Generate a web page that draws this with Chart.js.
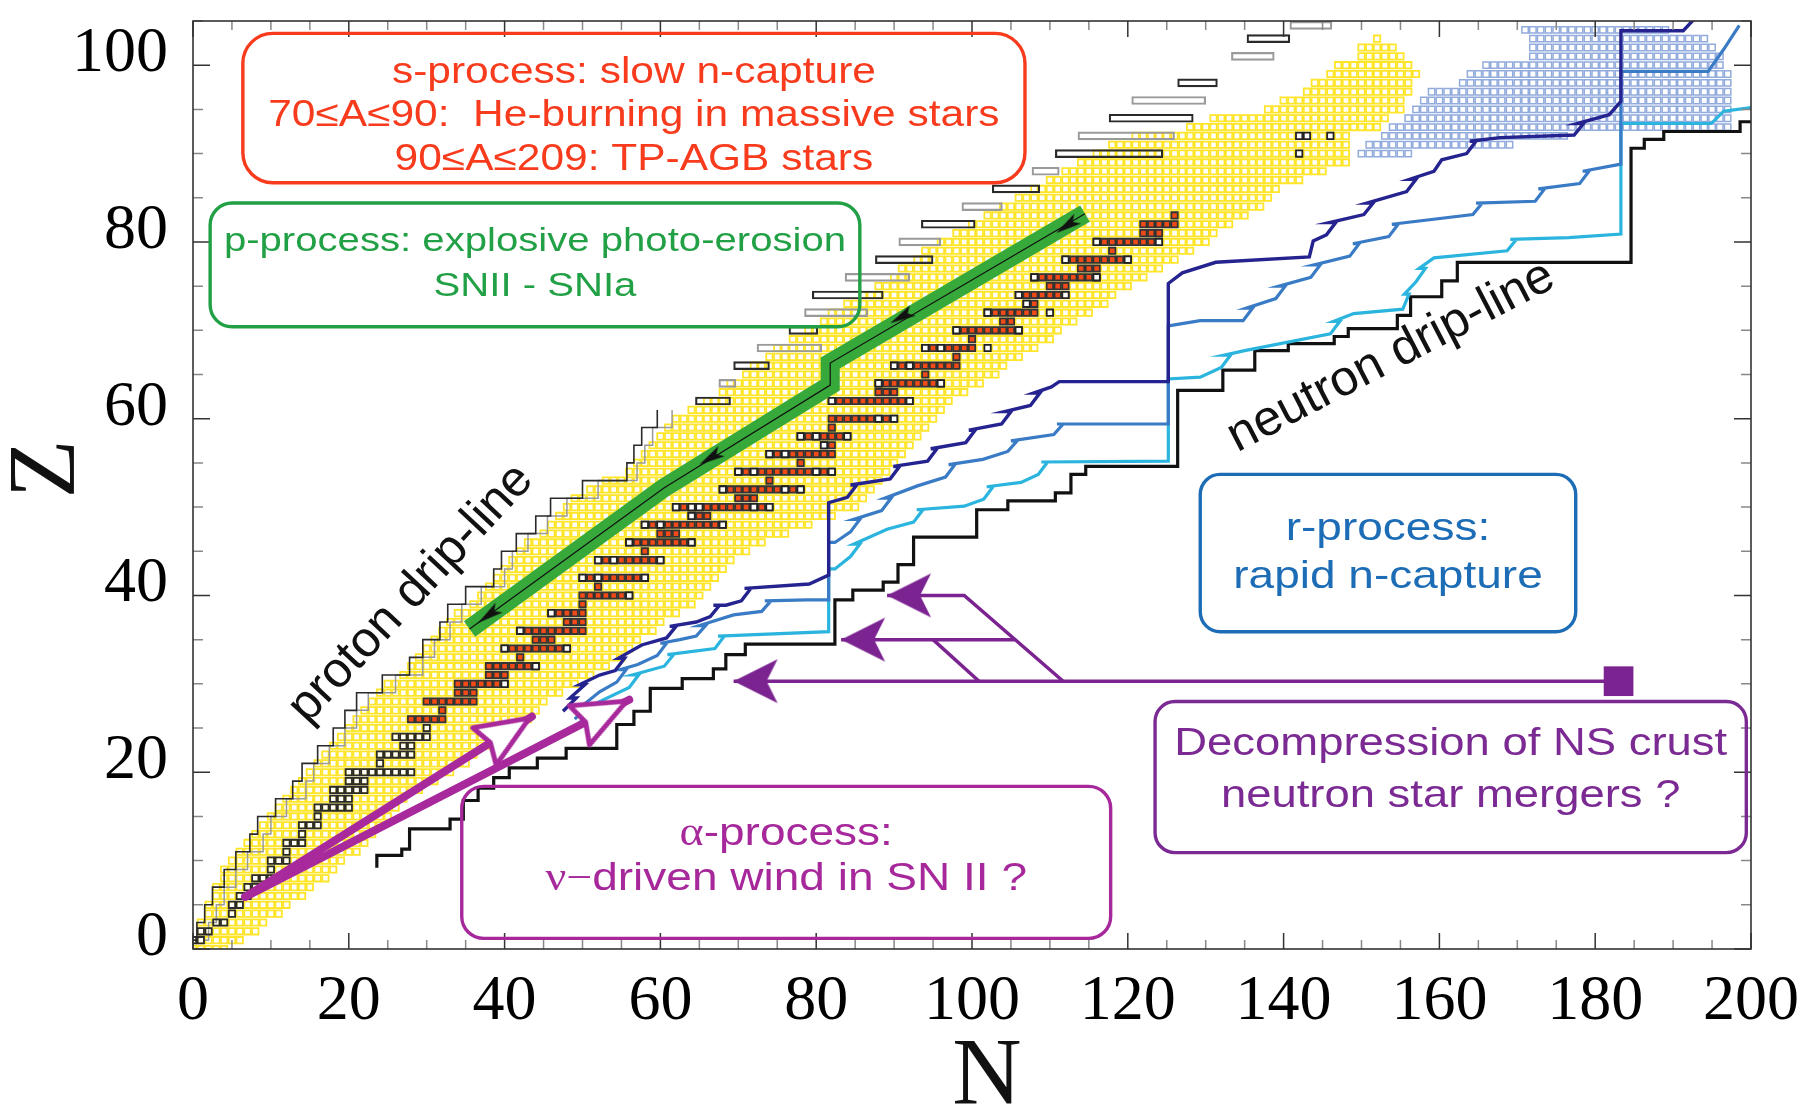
<!DOCTYPE html>
<html>
<head>
<meta charset="utf-8">
<title>Nucleosynthesis processes on the chart of nuclides</title>
<script src="https://cdn.jsdelivr.net/npm/chart.js@4.4.1/dist/chart.umd.min.js"></script>
<style>
  html, body { margin: 0; padding: 0; background: #fff; }
  canvas { display: block; }
</style>
</head>
<body>
<canvas id="nuclides" width="1811" height="1106"></canvas>
<script>
var SANS = "'Liberation Sans', Arial, Helvetica, sans-serif";
var SERIF = "'Liberation Serif', 'Times New Roman', Times, serif";

// axis tick labels
var nTicks = [0, 20, 40, 60, 80, 100, 120, 140, 160, 180, 200];
var zTicks = [0, 20, 40, 60, 80, 100];

// known nuclides (yellow cells), one row per Z starting at Z = 0
var knownNmin = [0,0,1,1,2,2,3,3,4,4,
  5,6,7,8,9,10,11,12,13,14,
  15,16,17,18,19,20,21,22,23,24,
  25,27,28,29,30,31,32,33,34,36,
  37,38,39,40,41,42,43,45,46,47,
  48,49,51,53,56,57,58,59,60,61,
  62,64,66,68,69,71,72,74,75,77,
  79,81,82,84,86,88,90,91,93,94,
  96,98,100,102,104,106,108,110,112,114,
  116,118,121,128,131,138,140,143,144,146,
  147,150,150,152];
var knownNmax = [4,6,8,9,11,12,14,15,17,18,
  19,21,22,23,24,25,26,27,29,31,
  33,35,36,38,40,41,43,44,45,47,
  49,51,53,55,56,57,59,60,62,64,
  65,66,67,68,69,71,73,76,79,82,
  85,86,87,88,89,90,91,92,93,94,
  95,96,97,99,101,103,104,106,108,110,
  111,113,115,117,118,120,122,124,126,128,
  130,131,133,135,137,138,139,142,145,148,
  148,148,148,152,153,155,155,156,156,157,
  156,155,154,152];

// superheavy region (light blue cells)
var heavyZ    = [90, 91, 92, 93, 94, 95, 96, 97, 98, 99, 100, 101, 102, 103, 104];
var heavyNmin = [150,151,153,154,156,157,158,159,163,164,166,172,172,172,171];
var heavyNmax = [156,169,176,197,197,197,197,197,197,197,196,196,195,194,189];

// valley of stability
var stableZ = [1,2,3,4,5,6,7,8,9,10,11,12,13,14,15,16,17,18,19,20,21,22,23,24,25,26,27,28,29,30,
  31,32,33,34,35,36,37,38,39,40,41,42,44,45,46,47,48,49,50,51,52,53,54,55,56,57,58,59,60,
  62,63,64,65,66,67,68,69,70,71,72,73,74,75,76,77,78,79,80,81,82,83];
var stableNmin = [0,1,3,5,5,6,7,8,10,10,12,12,14,14,16,16,18,18,20,20,24,24,27,26,30,28,32,30,34,34,
  38,38,42,40,44,42,48,46,50,50,52,50,52,58,56,60,58,64,62,70,68,74,70,78,74,81,78,82,82,
  82,88,88,94,90,98,94,100,98,104,102,107,106,110,108,114,112,118,116,122,122,126];
var stableNmax = [1,2,4,5,6,7,8,10,10,12,12,14,14,16,16,20,20,22,22,28,24,28,28,30,30,32,32,36,36,40,
  40,44,42,48,46,50,50,50,50,56,52,58,60,58,64,62,68,66,74,72,78,74,82,78,82,82,84,82,90,
  92,90,96,94,98,98,100,100,106,105,108,108,112,112,116,116,120,118,124,124,126,126];

// open squares [N, Z]: p-nuclei, r-only nuclei, long-lived actinides
var pNuclei = [[40,34],[42,36],[46,38],[50,42],[52,42],[52,44],[54,44],[56,46],[58,48],[60,48],
  [64,49],[62,50],[64,50],[65,50],[68,52],[70,54],[72,54],[74,56],[76,56],[81,57],[78,58],[80,58],
  [82,62],[88,64],[90,66],[92,66],[94,68],[96,68],[98,70],[102,72],[107,73],[106,74],[108,76],[112,78],[116,80]];
var rOnly = [[40,30],[44,32],[48,34],[56,40],[58,42],[60,44],[64,46],[68,48],[72,50],[74,50],[76,52],
  [78,52],[80,54],[82,54],[84,58],[88,60],[90,60],[92,62],[96,64],[102,68],[106,70],[110,72],[112,74],
  [116,76],[120,78],[124,80]];
var actinides = [[142,90],[142,92],[143,92],[146,92]];

// proton drip-line: lower staircase (outer and inner edge) and upper rows
var pDripLowZ     = [0,2,4,6,8,10,12,14,16,18,20,22,24,26,28,30,32,34,36,38,40,42,44,46,48,50,52,54,56,58,60];
var pDripLowOuter = [0,0.5,1.5,2.5,4,5.5,7.3,8.3,10.6,12.8,14,16,18,19.5,21,24.3,27.8,29.5,31.7,32.7,35,38.6,39.6,41.5,44,45.9,50,55.7,56.6,57.6,59.6];
var pDripLowInner = [1.5,2,3,4,5.5,7,9,10,12,14.5,15.5,17.5,19.5,21,22.5,26,29.5,31,33,34.5,37,40,41,43,45.5,48,52,57,58,59,61.5];
var pDripHighZ    = [62,64,66,68,70,72,74,76,78,80,82,84,86,88,90,92,94,96,98,101,103,104.5];
var pDripHighFrom = [64.5,67.5,69.4,72.4,76.5,78.5,79.5,83.7,87.6,90.6,93.5,98.7,102.6,107.7,110.7,113.6,117.6,120.5,126.4,133.3,135.3,140.8];
var pDripHighTo   = [69,69.7,74,80.7,80.2,86.6,88.6,92,95,96,100.4,103.9,108.7,111.2,124.5,126,128.4,130,131.5,138.8,140.8,146.2];

// neutron drip-line, corners of the staircase [N, Z]
var nDrip = [[23.6,9.2],[23.6,10.6],[26.8,11.3],[27.8,13.6],[33.0,14.7],[34.7,16.8],[36.6,18.2],[38.6,19.4],
  [40.6,20.5],[44.2,21.6],[47.9,22.7],[54.4,25.4],[56.6,26.9],[58.7,29.5],[62.8,30.6],[66.8,31.7],[68.4,33.3],
  [70.9,34.5],[82.4,39.5],[84.7,40.6],[88.6,41.5],[90.5,43.5],[92.5,46.6],[100.6,49.7],[104.6,50.7],[110.7,51.6],
  [112.7,53.7],[114.6,54.6],[126.4,63.2],[132.2,65.5],[136.3,67.7],[140.6,68.5],[146.5,69.3],[148.3,70.2],
  [154.6,71.7],[156.3,73.8],[160.3,75.6],[162.3,77.7],[184.6,90.6],[186.3,91.6],[188.8,92.5],[198.6,93.6],[200,93.6]];

// r-process paths [N, Z], with the odd-even zigzag at each rise
var rPathCold = [[47.5,26.9],[49.2,28.4],[48.4,28.4],[50.3,29.9],[49.6,29.9],[52.2,31.0],
  [54.2,31.5],[55.4,32.9],[54.6,32.9],[57.6,34.4],[60.8,35.2],[62,36.5],[61.2,36.5],[64.6,37.0],
  [66.4,37.6],[67.6,38.9],[66.8,38.9],[68.4,38.9],[70.4,39.4],[71.6,40.8],[70.8,40.8],[79.1,41.3],
  [81.6,42.3],[81.6,50.5],[84,51.1],[85.2,52.5],[84.4,52.5],[89.5,53.2],[90.7,54.6],[89.9,54.6],
  [94.3,55.2],[95.5,56.6],[94.7,56.6],[99.2,57.3],[100.4,58.7],[99.6,58.7],[103.8,59.4],[105,60.8],
  [104.2,60.8],[107.5,61.5],[108.7,62.9],[107.9,62.9],[110.2,63.6],[111.2,64.2],[125.2,64.2],[125.2,75.3],
  [127,76.5],[131.3,77.7],[143.3,78.3],[143.8,80.1],[145.5,80.8],[146.7,82.2],[145.9,82.2],[150.3,83.1],
  [151.5,84.4],[150.7,84.4],[155.8,85.7],[157,87.1],[156.2,87.1],[159.3,88.0],[160.3,89.3],[163.5,90],
  [164.7,91.4],[163.9,91.4],[167.8,91.8],[177.3,92.1],[178.5,93.4],[177.7,93.4],[181.8,94.4],[183.3,95.9],
  [183.3,103.9],[191.3,103.9],[193,105.5]];
var rPathMid = [[49,26],[50.6,27.4],[49.8,27.4],[52.2,29.1],[54.4,30.2],[55.6,31.6],[54.8,31.6],[57.1,32.2],
  [59.6,33.2],[60.8,34.6],[60,34.6],[62.5,35],[64.6,35.4],[65.8,36.6],[65,36.6],[69.4,37.8],[73,38.2],
  [74.2,39.4],[73.4,39.4],[78.8,39.5],[81.6,39.5],[81.6,46.0],[82.4,46.0],[84.4,47.2],[85.6,48.6],[84.8,48.6],
  [88.4,49.6],[89.6,51],[88.8,51],[93,52.4],[96.6,53.4],[97.8,54.8],[97,54.8],[101.4,55.4],[104.6,56.3],
  [105.8,57.5],[105,57.5],[110.5,58.2],[111.7,59.4],[110.9,59.4],[125.2,59.4],[125.2,70.5],[129.3,71.1],
  [134.8,71.1],[136,72.5],[135.2,72.5],[139,73.6],[140.2,75],[139.4,75],[143.5,76],[144.7,77.4],[143.9,77.4],
  [148.5,78.4],[149.7,79.8],[148.9,79.8],[153.5,80.6],[154.7,82],[153.9,82],[164.3,83.1],[165.5,84.4],
  [164.7,84.4],[172.3,84.6],[173.5,86],[172.7,86],[178,86.6],[179.2,88],[178.4,88],[183.3,88.8],[183.3,99.3],
  [194.5,99.3],[196.5,101.8],[198.5,104.5]];
var rPathHot = [[49.5,25.5],[51,26.8],[50.2,26.8],[52.2,28.0],[56,29.6],[57.2,31],[56.4,31],[60.5,32],
  [61.7,33.3],[60.9,33.3],[67,34.0],[68.2,35.4],[67.4,35.4],[81.6,35.9],[81.6,43.0],[82.4,43.0],[84.4,44.4],
  [85.6,45.8],[84.8,45.8],[89.1,47.5],[92.5,48.3],[93.7,49.7],[92.9,49.7],[99,50.1],[101.5,50.9],[102.7,52.3],
  [101.9,52.3],[106.3,52.8],[108.5,53.7],[109.7,55.1],[108.9,55.1],[125.2,55.2],[125.2,64.5],[129.3,64.7],
  [132,65.8],[133.2,67.2],[132.4,67.2],[135,67.7],[146,69.6],[147.2,71],[146.4,71],[149,71.9],[155.3,72.4],
  [156.1,74.1],[155.5,74.1],[157,75.5],[158.2,77],[157.4,77],[159.3,78.2],[168.7,79.0],[169.9,80.3],
  [169.1,80.3],[176.6,80.5],[183.3,80.9],[183.3,93.4],[194.9,93.4],[196.5,94.8],[200,95.2]];

// p-process photo-erosion arrow
var pPath = [[114.5,83.2],[81.8,66.3],[81.8,63.8],[60.5,52.2],[35.5,36.2]];
var pHeadTips = [[110.8,81.0],[89.5,70.8],[65.0,54.8],[36.6,36.9]];
var pHeadBack = [[114.5,83.2],[114.5,83.2],[81.8,63.8],[60.5,52.2]];

// alpha-process arrows
var alphaStart = [6.7, 5.9];
var alphaTips = [[43.5,26.3],[56,28.2]];

// NS crust decompression arrows
var nsSource = [183, 30.3];
var nsMain = [[183,30.3],[69.4,30.3]];
var nsBranchA = [[111.7,30.3],[99,40],[89.1,40]];
var nsBranchB = [[105.5,35],[83.2,35]];
var nsBranchC = [[100.9,30.3],[95,35]];
var nsTips = [[69.4,30.3],[83.2,35],[89.1,40]];
var nsBack = [[80,30.3],[95,35],[99,40]];

function cells(zs, lo, hi) {
  var out = [];
  for (var i = 0; i < zs.length; i++) {
    for (var n = lo[i]; n <= hi[i]; n++) out.push({x: n, y: zs[i]});
  }
  return out;
}
function pts(list) {
  return list.map(function (p) { return {x: p[0], y: p[1]}; });
}
// staircase corners: each row rises along its edge up to the top of the row
function stairs(zs, edge) {
  return zs.map(function (z, i) { return {x: edge[i], y: z + 1}; });
}

var knownZ = knownNmin.map(function (v, z) { return z; });
var sBand = [], lightStable = [];
cells(stableZ, stableNmin, stableNmax).forEach(function (p) {
  (p.y >= 26 ? sBand : lightStable).push(p);
});

// arrowhead sprites, drawn pointing right with the tip at the centre
function head(kind) {
  var c = document.createElement('canvas');
  var g;
  if (kind === 'green') {
    c.width = 56; c.height = 16;
    g = c.getContext('2d');
    g.fillStyle = '#111';
    g.beginPath();
    g.moveTo(28, 8); g.lineTo(2, 2); g.lineTo(8, 8); g.lineTo(2, 14);
    g.closePath(); g.fill();
  } else if (kind === 'alpha') {
    c.width = 128; c.height = 58;
    g = c.getContext('2d');
    g.lineJoin = 'round';
    g.lineWidth = 5;
    g.strokeStyle = '#a8299c';
    g.fillStyle = '#fff';
    g.beginPath();
    g.moveTo(61, 29); g.lineTo(8, 7); g.lineTo(15, 29); g.lineTo(8, 51);
    g.closePath(); g.fill(); g.stroke();
  } else {
    c.width = 92; c.height = 48;
    g = c.getContext('2d');
    g.fillStyle = '#7b2390';
    g.beginPath();
    g.moveTo(46, 24); g.lineTo(2, 2); g.lineTo(13, 24); g.lineTo(2, 46);
    g.closePath(); g.fill();
  }
  return c;
}

function headAngle(tips, backs) {
  return function (ctx) {
    var c = ctx.chart, i = ctx.dataIndex;
    if (i === undefined || !c.scales || !c.scales.x) return 0;
    var sx = c.scales.x, sy = c.scales.y;
    var dx = sx.getPixelForValue(tips[i][0]) - sx.getPixelForValue(backs[i][0]);
    var dy = sy.getPixelForValue(tips[i][1]) - sy.getPixelForValue(backs[i][1]);
    return Math.atan2(dy, dx) * 180 / Math.PI;
  };
}

function cellSet(data, border, fill, width, order) {
  return {
    type: 'scatter', data: data, order: order, showLine: false,
    pointStyle: 'rect', pointRadius: 4.5, pointBorderWidth: width,
    pointBorderColor: border, pointBackgroundColor: fill
  };
}
function dripRows(zs, from, to, thickness, order) {
  return {
    type: 'bar', indexAxis: 'y', order: order, grouped: false,
    data: zs.map(function (z, i) { return {x: [from[i], to[i]], y: z}; }),
    barThickness: thickness, borderWidth: 1.5, borderSkipped: false,
    borderColor: zs.map(function (z, i) { return i % 2 ? '#9a9a9a' : '#2a2a2a'; }),
    backgroundColor: 'rgba(0,0,0,0)'
  };
}
function path(data, color, width, order, extra) {
  var ds = {
    type: 'line', data: data, order: order, borderColor: color, borderWidth: width,
    pointRadius: 0, fill: false, tension: 0, borderJoinStyle: 'miter', borderCapStyle: 'butt'
  };
  for (var k in extra) ds[k] = extra[k];
  return ds;
}

var datasets = [
  cellSet(cells(knownZ, knownNmin, knownNmax), '#ffe52a', 'rgba(255,255,255,0)', 1.8, 100),
  cellSet(cells(heavyZ, heavyNmin, heavyNmax), '#92abdd', 'rgba(255,255,255,0)', 1.5, 99),
  path(stairs(pDripLowZ, pDripLowInner), '#9a9a9a', 1.5, 92, {stepped: true}),
  path(stairs(pDripLowZ, pDripLowOuter), '#2a2a2a', 1.6, 91, {stepped: true}),
  dripRows(pDripHighZ, pDripHighFrom, pDripHighTo, 8, 90),
  cellSet(lightStable, '#2a2a2a', 'rgba(255,255,255,0)', 1.8, 86),
  cellSet(sBand, '#333', '#ef4a18', 1.8, 85),
  cellSet(pts(pNuclei.concat(rOnly, actinides)), '#222', '#fff', 1.8, 84),
  path(pts(nDrip), '#111', 3.2, 80, {stepped: true}),
  path(pts(rPathHot), '#2ab4de', 3.2, 72),
  path(pts(rPathMid), '#3a7bc6', 3.2, 71),
  path(pts(rPathCold), '#25238f', 3.4, 70),
  path(pts(pPath), '#37a83a', 19, 60),
  path(pts(pPath), '#111', 1.2, 59),
  {
    type: 'scatter', data: pts(pHeadTips), order: 58, showLine: false,
    pointStyle: head('green'), pointRadius: 5, pointRotation: headAngle(pHeadTips, pHeadBack)
  },
  path(pts([alphaStart, alphaTips[0]]), '#a8299c', 8, 50, {borderCapStyle: 'round'}),
  path(pts([alphaStart, alphaTips[1]]), '#a8299c', 8, 50, {borderCapStyle: 'round'}),
  {
    type: 'scatter', data: pts(alphaTips), order: 49, showLine: false,
    pointStyle: head('alpha'), pointRadius: 5,
    pointRotation: headAngle(alphaTips, [alphaStart, alphaStart])
  },
  path(pts(nsMain), '#7b2390', 3.5, 40),
  path(pts(nsBranchA), '#7b2390', 3.5, 40),
  path(pts(nsBranchB), '#7b2390', 3.5, 40),
  path(pts(nsBranchC), '#7b2390', 3.5, 40),
  {
    type: 'scatter', data: pts(nsTips), order: 39, showLine: false,
    pointStyle: head('ns'), pointRadius: 5, pointRotation: headAngle(nsTips, nsBack)
  },
  {
    type: 'scatter', data: pts([nsSource]), order: 38, showLine: false,
    pointStyle: 'rect', pointRadius: 21, pointBackgroundColor: '#7b2390', pointBorderWidth: 0
  }
];

// text boxes, placed in (N, Z) coordinates; lineY is the offset of each line from the box top in px
var noteBoxes = [
  { n: [6.4, 106.8], z: [86.7, 103.6], color: '#f83b1d', radius: 30, size: 36, lineY: [40, 83, 127],
    lines: [[['s-process: slow n-capture', SANS]],
            [['70\u2264A\u226490:  He-burning in massive stars', SANS]],
            [['90\u2264A\u2264209: TP-AGB stars', SANS]]] },
  { n: [2.2, 85.6], z: [70.4, 84.4], color: '#21a046', radius: 22, size: 34, lineY: [39, 84],
    lines: [[['p-process: explosive photo-erosion', SANS]], [['SNII - SNIa', SANS]]] },
  { n: [129.3, 177.5], z: [35.9, 53.7], color: '#1d6db6', radius: 20, size: 39, lineY: [55, 103],
    lines: [[['r-process:', SANS]], [['rapid n-capture', SANS]]] },
  { n: [123.5, 199.4], z: [10.9, 28.0], color: '#7b2a93', radius: 20, size: 38.5, lineY: [43, 95],
    lines: [[['Decompression of NS crust', SANS]], [['neutron star mergers ?', SANS]]] },
  { n: [34.5, 117.8], z: [1.2, 18.4], color: '#a6289b', radius: 22, size: 39, lineY: [48, 93],
    lines: [[['\u03b1', SERIF], ['-process:', SANS]],
            [['\u03bd\u2212', SERIF], ['driven wind in SN II ?', SANS]]] }
];
var slantLabels = [
  { text: 'proton drip-line', n: 28.0, z: 40.2, angle: -47, size: 50 },
  { text: 'neutron drip-line', n: 153.8, z: 67.0, angle: -27.5, size: 50 }
];
var textStretch = 1.18;

function roundRect(ctx, x0, y0, x1, y1, r) {
  ctx.beginPath();
  ctx.moveTo(x0 + r, y0);
  ctx.arcTo(x1, y0, x1, y1, r);
  ctx.arcTo(x1, y1, x0, y1, r);
  ctx.arcTo(x0, y1, x0, y0, r);
  ctx.arcTo(x0, y0, x1, y0, r);
  ctx.closePath();
}

function drawRuns(ctx, runs, cx, cy, size) {
  var total = 0, widths = [];
  runs.forEach(function (r) {
    ctx.font = size + 'px ' + r[1];
    var w = ctx.measureText(r[0]).width;
    widths.push(w); total += w;
  });
  ctx.save();
  ctx.translate(cx, cy);
  ctx.scale(textStretch, 1);
  var x = -total / 2;
  runs.forEach(function (r, i) {
    ctx.font = size + 'px ' + r[1];
    ctx.fillText(r[0], x, 0);
    x += widths[i];
  });
  ctx.restore();
}

var frameAndNotes = {
  id: 'frameAndNotes',
  afterDatasetsDraw: function (chart) {
    var ctx = chart.ctx, a = chart.chartArea;
    var sx = chart.scales.x, sy = chart.scales.y;
    ctx.save();

    // inward ticks on all four sides
    var v, p, len;
    for (v = sx.min; v <= sx.max; v += 5) {
      p = sx.getPixelForValue(v);
      len = v % 20 === 0 ? 16 : 9;
      ctx.strokeStyle = v % 20 === 0 ? '#333' : '#888';
      ctx.lineWidth = 1.5;
      ctx.beginPath();
      ctx.moveTo(p, a.bottom); ctx.lineTo(p, a.bottom - len);
      ctx.moveTo(p, a.top); ctx.lineTo(p, a.top + len);
      ctx.stroke();
    }
    for (v = sy.min; v <= sy.max; v += 5) {
      p = sy.getPixelForValue(v);
      len = v % 20 === 0 ? 17 : 10;
      ctx.strokeStyle = v % 20 === 0 ? '#333' : '#888';
      ctx.lineWidth = 1.5;
      ctx.beginPath();
      ctx.moveTo(a.left, p); ctx.lineTo(a.left + len, p);
      ctx.moveTo(a.right, p); ctx.lineTo(a.right - len, p);
      ctx.stroke();
    }
    ctx.strokeStyle = '#333';
    ctx.lineWidth = 1.6;
    ctx.strokeRect(a.left, a.top, a.right - a.left, a.bottom - a.top);

    // process boxes
    noteBoxes.forEach(function (b) {
      var x0 = sx.getPixelForValue(b.n[0]), x1 = sx.getPixelForValue(b.n[1]);
      var y0 = sy.getPixelForValue(b.z[1]), y1 = sy.getPixelForValue(b.z[0]);
      ctx.strokeStyle = b.color;
      ctx.lineWidth = 3.4;
      roundRect(ctx, x0, y0, x1, y1, b.radius);
      ctx.stroke();
      ctx.fillStyle = b.color;
      ctx.textAlign = 'left';
      ctx.textBaseline = 'middle';
      b.lines.forEach(function (runs, i) {
        drawRuns(ctx, runs, (x0 + x1) / 2, y0 + b.lineY[i], b.size);
      });
    });

    // drip-line labels
    ctx.fillStyle = '#111';
    ctx.textAlign = 'center';
    ctx.textBaseline = 'middle';
    slantLabels.forEach(function (l) {
      ctx.save();
      ctx.translate(sx.getPixelForValue(l.n), sy.getPixelForValue(l.z));
      ctx.rotate(l.angle * Math.PI / 180);
      ctx.font = l.size + 'px ' + SANS;
      ctx.fillText(l.text, 0, 0);
      ctx.restore();
    });

    // axis titles
    ctx.font = '96px ' + SERIF;
    ctx.textAlign = 'center';
    ctx.textBaseline = 'alphabetic';
    ctx.fillText('N', a.left + 794, a.bottom + 155);
    ctx.save();
    ctx.translate(a.left - 144, a.top + 448);
    ctx.rotate(-Math.PI / 2);
    ctx.textBaseline = 'middle';
    ctx.fillText('Z', 0, 0);
    ctx.restore();

    ctx.restore();
  }
};

new Chart(document.getElementById('nuclides'), {
  type: 'scatter',
  data: { datasets: datasets },
  plugins: [frameAndNotes],
  options: {
    responsive: false,
    animation: false,
    devicePixelRatio: 1,
    events: [],
    layout: { padding: { left: 0, right: 60, top: 14, bottom: 0 } },
    plugins: { legend: { display: false }, tooltip: { enabled: false } },
    scales: {
      x: {
        type: 'linear', min: 0, max: 200, offset: false,
        grid: { display: false, drawTicks: false, offset: false },
        border: { display: false },
        ticks: {
          padding: 15, color: '#000', maxRotation: 0, autoSkip: false,
          font: { family: SERIF, size: 64 }
        },
        afterBuildTicks: function (s) { s.ticks = nTicks.map(function (v) { return {value: v}; }); },
        afterFit: function (s) { s.height = 157; s.paddingLeft = 0; s.paddingRight = 0; }
      },
      y: {
        type: 'linear', min: 0, max: 105, offset: false,
        grid: { display: false, drawTicks: false, offset: false },
        border: { display: false },
        ticks: {
          padding: 25, color: '#000', labelOffset: -11, autoSkip: false,
          font: { family: SERIF, size: 64 }
        },
        afterBuildTicks: function (s) { s.ticks = zTicks.map(function (v) { return {value: v}; }); },
        afterFit: function (s) { s.width = 193; s.paddingTop = 0; s.paddingBottom = 0; }
      }
    }
  }
});
</script>
</body>
</html>
